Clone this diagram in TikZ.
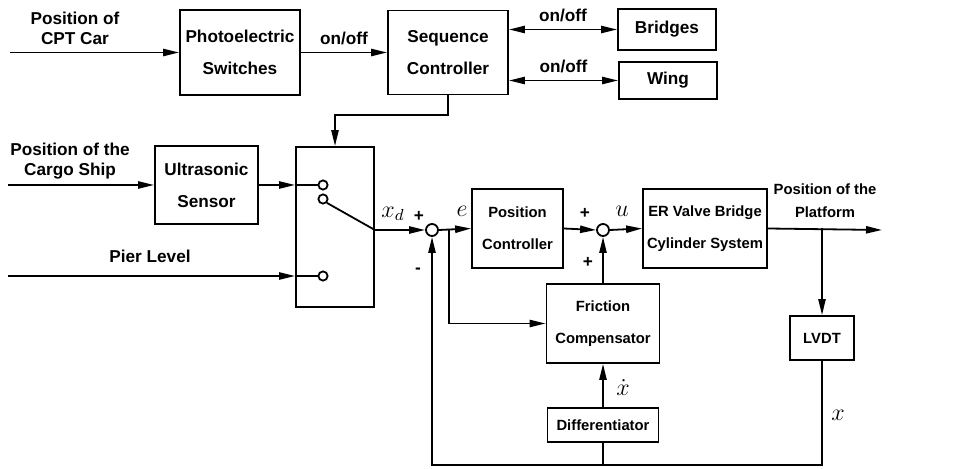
\documentclass[tikz,border=0pt]{standalone}
\usepackage{fontspec}
\setmainfont{Liberation Sans}
\usepackage{tikz}
\usetikzlibrary{positioning, arrows.meta, calc}

\begin{document}
\begin{tikzpicture}[x=0.5pt, y=-0.5pt, line width=0.9pt,
  font=\fontsize{8.6}{16}\selectfont\bfseries,
  >={Triangle[length=8pt, width=3.6pt]},
  blk/.style={draw, align=center, inner sep=0pt},
  blks/.style={blk, font=\fontsize{7.4}{16}\selectfont\bfseries},
  sum/.style={draw, circle, minimum size=6pt, inner sep=0pt},
  pin/.style={draw, circle, minimum size=4.6pt, inner sep=0pt},
  lbl/.style={align=center, font=\fontsize{8.6}{10}\selectfont\bfseries},
  sig/.style={font=\fontsize{12}{14}\selectfont}]
			\useasboundingbox (0,0) rectangle (961,469);

			% Sequence part
			\node[blk, minimum width=60pt, minimum height=42.5pt] (photo) at (240,52.5) {Photoelectric\\Switches};
			\node[blk, minimum width=60pt, minimum height=42pt] (seq) at (448,52.5) {Sequence\\Controller};
			\node[blk, minimum width=49pt, minimum height=20.5pt] (bridges) at (667,29.5) {Bridges};
			\node[blk, minimum width=49pt, minimum height=18.5pt] (wing) at (668,80.5) {Wing};
			\coordinate (cpt) at (10,52.5);
			\node[lbl] at (75,28) {Position of\\CPT Car};
			\draw[->] (cpt) -- (photo.west);
			\draw[->] (photo.east) -- node[above, lbl] {on/off} (seq.west);
			\draw[<->] (seq.east |- bridges) -- node[above, lbl] {on/off} (bridges.west);
			\draw[<->] (seq.east |- wing) -- node[above, lbl] {on/off} (wing.west);

			% Reference selection
			\node[blk, minimum width=51.5pt, minimum height=39pt] (ultra) at (206.5,185) {Ultrasonic\\Sensor};
			\node[blk, minimum width=39pt, minimum height=80pt] (sw) at (335,227) {};
			\node[pin] (p1) at (323,185) {};
			\node[pin] (p2) at (323,199) {};
			\node[pin] (p3) at (323,276) {};
			\coordinate (ship) at (8,185);
			\coordinate (pier) at (8,276);
			\node[lbl] at (70,161) {Position of the\\Cargo Ship};
			\node[lbl] at (150,256) {Pier Level};
			\draw[->] (ship) -- (ultra.west);
			\draw[->] (ultra.east) -- (ultra.east -| sw.west);
			\draw (ultra.east -| sw.west) -- (p1.west);
			\draw[->] (pier) -- (sw.west |- p3);
			\draw (sw.west |- p3) -- (p3.west);
			\draw[->] (seq.south) -- ++(0,20) -| (sw.north);

			% Position loop
			\node[sum] (sum1) at (432,230) {};
			\node[sum] (sum2) at (603,230) {};
			\node[blks, minimum width=45.5pt, minimum height=39.5pt] (posc) at (517.5,228.5) {Position\\Controller};
			\node[blks, minimum width=62pt, minimum height=39.5pt] (er) at (705,228.5) {ER Valve Bridge\\Cylinder System};
			\node[blks, minimum width=56.5pt, minimum height=39.5pt] (fric) at (603,323.5) {Friction\\Compensator};
			\node[blks, minimum width=55.5pt, minimum height=17pt] (diff) at (603,425) {Differentiator};
			\node[blks, minimum width=32pt, minimum height=22pt] (lvdt) at (822,338) {LVDT};
			\coordinate (arm) at (sw.east |- sum1);
			\coordinate (eb) at (449,230);
			\coordinate (out) at (882,230);
			\coordinate (fb) at (822,465);
			\draw (p2.south east) -- (arm);
			\draw[->] (arm) -- (sum1.west);
			\draw[->] (sum1.east) -- (posc.west);
			\draw[->] (eb) |- (fric.west);
			\draw[->] (posc.east) -- (sum2.west);
			\draw[->] (sum2.east) -- (er.west);
			\draw[->] (er.east) -- (out);
			\draw[->] (lvdt.north |- er.east) -- (lvdt.north);
			\draw[->] (lvdt.south) -- (fb) -| (sum1.south);
			\draw (diff.south) -- (diff.south |- fb);
			\draw[->] (diff.north) -- (fric.south);
			\draw[->] (fric.north) -- (sum2.south);
			\node[lbl, font=\fontsize{7.4}{11.5}\selectfont\bfseries] at (825,201) {Position of the\\Platform};

			% Signal labels
			\node[sig] at (393,214) {$x_d$};
			\node[sig] at (462,211) {$e$};
			\node[sig] at (622,211) {$u$};
			\node[sig] at (623,388) {$\dot{x}$};
			\node[sig] at (838,415) {$x$};
			\node at (419,216) {+};
			\node at (418,271) {-};
			\node at (585,213) {+};
			\node at (588,262) {+};
\end{tikzpicture}
\end{document}
